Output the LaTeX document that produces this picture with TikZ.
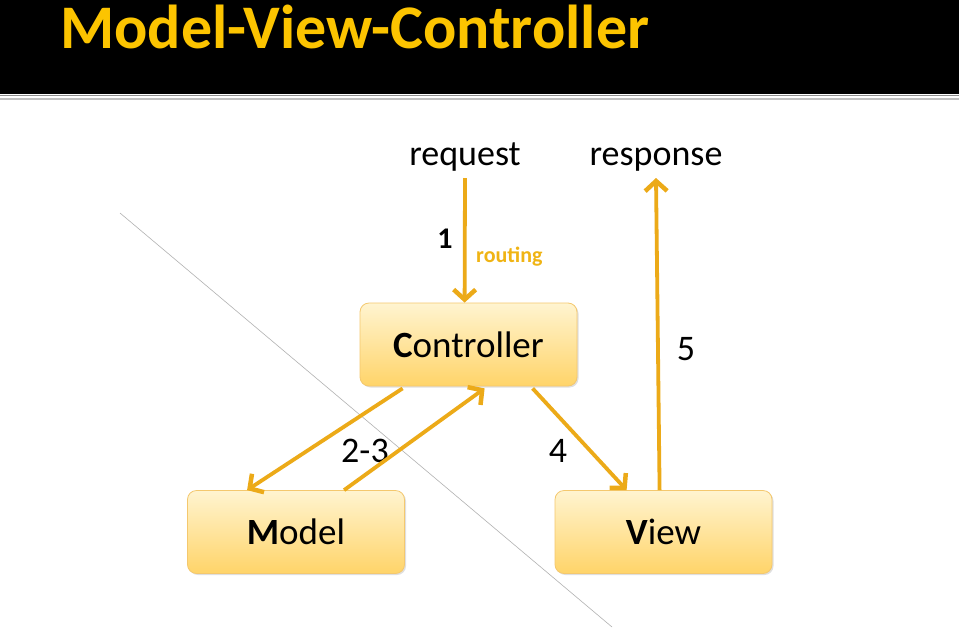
\documentclass[tikz,border=0pt]{standalone}
\usepackage{fontspec}
\setmainfont{Carlito}
\usetikzlibrary{arrows.meta,shadows}
\definecolor{arr}{RGB}{236,170,24}
\definecolor{gold}{RGB}{252,196,0}
\definecolor{boxtop}{RGB}{255,244,208}
\definecolor{boxbot}{RGB}{255,212,105}
\definecolor{boxline}{RGB}{244,200,110}
\definecolor{routc}{RGB}{240,180,20}
\tikzset{
  mvcbox/.style={rectangle, rounded corners=9pt, minimum width=217pt, minimum height=83pt,
    top color=boxtop, bottom color=boxbot, draw=boxline, line width=0.8pt,
    drop shadow={shadow xshift=1.5pt, shadow yshift=-1.5pt, opacity=0.25},
    font=\fontsize{37}{40}\selectfont, inner sep=0pt},
  flow/.style={draw=arr, line width=3.8pt, -{Straight Barb[length=10pt,width=22pt,line width=4.5pt]}},
  lbl/.style={font=\fontsize{36}{40}\selectfont, inner sep=0pt, anchor=base},
}
\begin{document}
\begin{tikzpicture}[x=1pt,y=-1pt]
\useasboundingbox (0,0) rectangle (959,630);
\fill[white] (0,0) rectangle (959,630);
% header
\fill[black] (0,0) rectangle (959,94);
\draw[gray!90, line width=1.5pt] (0,95.5) -- (959,95.5);
\draw[gray!50, line width=1.2pt] (0,99) -- (959,99);
\node[anchor=base west, inner sep=0pt, text=gold, font=\fontsize{62}{70}\selectfont\bfseries] (title) at (60,48) {Model-View-Controller};
% diagonal
\coordinate (d1) at (120,213);
\coordinate (d2) at (612,627);
\draw[gray!60, line width=0.6pt] (d1) -- (d2);
% boxes
\node[mvcbox] (C) at (468.5,344.5) {\textbf{C}ontroller};
\node[mvcbox] (M) at (296,532) {\textbf{M}odel};
\node[mvcbox] (V) at (663.5,532) {\textbf{V}iew};
% labels
\node[lbl] (req) at (465,165) {request};
\node[lbl] (resp) at (656,165) {response};
\node[lbl, font=\fontsize{30}{34}\selectfont\bfseries] (one) at (445,248) {1};
\node[lbl, anchor=base west, text=routc, font=\fontsize{22}{26}\selectfont\bfseries] (rout) at (476,262) {routing};
\node[lbl] (five) at (686,360) {5};
\node[lbl] (twothree) at (365,462) {2-3};
\node[lbl] (four) at (558,462) {4};
% arrows
\coordinate (reqs) at (465,178);
\coordinate (respe) at (656,178);
\draw[flow] (reqs) -- ([xshift=105pt]C.north west);
\draw[flow] ([xshift=105pt]V.north west) -- (respe);
\draw[flow] ([xshift=43pt,yshift=-2pt]C.south west) -- ([xshift=60pt]M.north west);
\draw[flow] ([xshift=157pt]M.north west) -- ([xshift=125pt,yshift=-2pt]C.south west);
\draw[flow] ([xshift=173pt,yshift=-2pt]C.south west) -- ([xshift=72pt]V.north west);
\end{tikzpicture}
\end{document}
